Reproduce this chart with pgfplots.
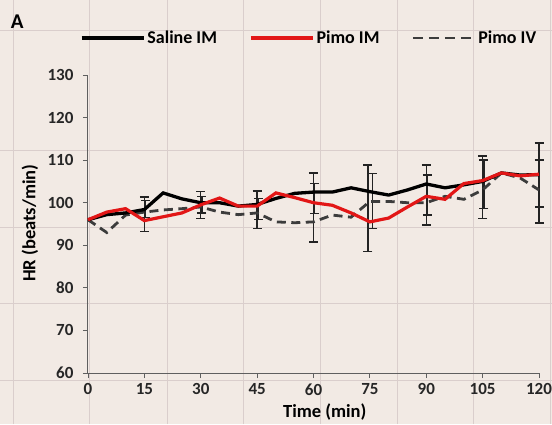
\documentclass[border=0pt]{standalone}
\usepackage{fontspec}
\setmainfont{Carlito}
\usepackage{pgfplots}
\pgfplotsset{compat=1.18}
\usetikzlibrary{backgrounds,calc}
\definecolor{bg}{RGB}{242,234,228}
\definecolor{pgrid}{RGB}{218,206,204}
\definecolor{myred}{RGB}{226,22,22}
\definecolor{axgray}{RGB}{95,95,95}
\definecolor{dashgray}{RGB}{60,60,60}
\definecolor{barcol}{RGB}{35,35,35}

\pgfplotstableread{
t saline pimoim pimoiv
0 96 96 96
5 97.2 97.8 93
10 97.6 98.6 97.1
15 98.4 95.8 97.8
20 102.3 96.7 98.3
25 100.9 97.6 98.6
30 100 99.5 99
35 100 101.1 97.8
40 99.2 99.2 97.2
45 99.6 99.2 97.6
50 101 102.3 95.5
55 102.2 101.2 95.3
60 102.5 100 95.5
65 102.5 99.4 97.1
70 103.5 97.6 96.6
75 102.6 95.5 100.3
80 101.8 96.4 100.3
85 103 99 100
90 104.4 101.5 100
95 103.5 100.8 101.5
100 104.2 104.5 100.8
105 105 105.2 103
110 107 107 107
115 106.5 106.3 105.8
120 106.6 106.7 103
}\datatable

\begin{document}
\begin{tikzpicture}
\begin{axis}[
  scale only axis, width=451pt, height=298pt,
  xmin=0, xmax=120, ymin=60, ymax=130,
  axis x line*=bottom, axis y line*=left,
  axis line style={axgray, line width=1pt, -},
  xtick={0,15,...,120}, ytick={60,70,...,130},
  tick align=outside, major tick length=5pt,
  tick style={axgray, line width=0.9pt},
  /pgf/number format/assume math mode=true,
  tick label style={font=\bfseries\fontsize{17}{18}\selectfont, text=black!85},
  xticklabel style={yshift=-2pt},
  yticklabel style={xshift=-6pt},
  xlabel={Time (min)}, ylabel={HR (beats/min)},
  label style={font=\bfseries\fontsize{18.5}{20}\selectfont},
  xlabel style={at={(axis description cs:0.525,-0.131)}, anchor=center},
  ylabel style={at={(axis description cs:-0.129,0.503)}, anchor=center},
  legend columns=3,
  legend style={at={(axis description cs:0.49,1.124)}, anchor=center,
    draw=none, fill=none, font=\bfseries\fontsize{18}{20}\selectfont,
    /tikz/every even column/.append style={column sep=30pt}},
  legend image code/.code={\draw[#1] (0pt,0pt) -- (62pt,0pt);},
  clip=false,
]
\coordinate (sw) at (rel axis cs:0,0);
% error bars (outer)
\addplot[draw=none, mark=none, forget plot,
  error bars/.cd, y dir=both, y explicit,
  error bar style={line width=1.5pt, barcol},
  error mark options={rotate=90, mark size=4.5pt, line width=1.5pt, barcol}]
 coordinates {
 (15,97.3) +- (0,4.1)
 (30,99.45) +- (0,3.15)
 (45,98.4) +- (0,4.4)
 (60,98.9) +- (0,8.1)
 (74.5,98.7) +- (0,10.2)
 (90,101.85) +- (0,7.05)
 (105,103.65) +- (0,7.35)
 (120,104.6) +- (0,9.4)
 };
% error bars (inner)
\addplot[draw=none, mark=none, forget plot,
  error bars/.cd, y dir=both, y explicit,
  error bar style={line width=1.5pt, barcol},
  error mark options={rotate=90, mark size=4.5pt, line width=1.5pt, barcol}]
 coordinates {
 (15.3,98.5) +- (0,2)
 (30.3,99.55) +- (0,1.95)
 (45.3,98.5) +- (0,2.5)
 (60.3,101) +- (0,3.5)
 (75.7,100.45) +- (0,6.45)
 (90.3,101.8) +- (0,4.7)
 (105.3,104.35) +- (0,5.65)
 (120,104.5) +- (0,5.5)
 };
\addplot[dashgray, line width=2.8pt, dash pattern=on 9pt off 5.5pt, forget plot] table[x=t, y=pimoiv] {\datatable};
\addplot[black, line width=3.3pt, forget plot] table[x=t, y=saline] {\datatable};
\addplot[myred, line width=3.2pt, forget plot] table[x=t, y=pimoim] {\datatable};

\addlegendimage{black, line width=3.6pt}
\addlegendentry{Saline IM}
\addlegendimage{myred, line width=3.6pt}
\addlegendentry{Pimo IM}
\addlegendimage{dashgray, line width=2.8pt, dash pattern=on 10pt off 6pt}
\addlegendentry{Pimo IV}

\node[font=\bfseries\fontsize{21}{22}\selectfont] at (axis description cs:-0.157,1.178) {A};
\end{axis}
\pgfresetboundingbox
\path[use as bounding box] (sw) ++(-88pt,-51pt) rectangle ++(552pt,424pt);
\begin{scope}[on background layer]
  \fill[bg] (sw) ++(-88pt,-51pt) rectangle ++(552pt,424pt);
  \foreach \px in {14,90,167,243,320,397,473,550} {
    \draw[pgrid, line width=1pt] ($(sw)+(\px pt-88pt,-51pt)$) -- ++(0,424pt);
  }
  \foreach \py in {31,150,227,303,380} {
    \draw[pgrid, line width=1pt] ($(sw)+(-88pt,373pt-\py pt)$) -- ++(552pt,0);
  }
\end{scope}
\end{tikzpicture}
\end{document}
